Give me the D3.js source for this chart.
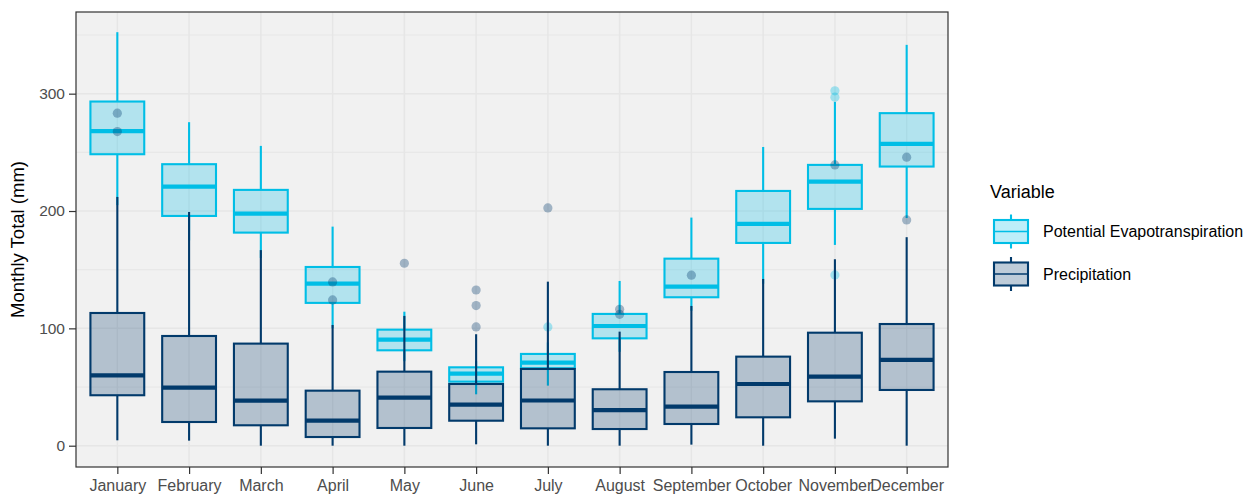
<!DOCTYPE html>
<html>
<head>
<meta charset="utf-8">
<script src="https://cdn.jsdelivr.net/npm/d3@7"></script>
<style>
  html, body { margin: 0; padding: 0; background: #ffffff; }
  svg { display: block; font-family: "Liberation Sans", Arial, sans-serif; }
</style>
</head>
<body>
<svg id="chart" width="1251" height="498"></svg>
<script>
// ---------- data ----------
const months = ["January","February","March","April","May","June","July","August","September","October","November","December"];
const seriesNames = ["Potential Evapotranspiration", "Precipitation"];

// Potential Evapotranspiration box statistics
const petLow  = [205, 175, 160, 100, 72, 43.8, 51.2, 80, 115, 138, 171.1, 194];
const petQ1   = [248.4, 195.8, 181.6, 121.7, 81.3, 54.6, 66, 91.5, 126.5, 172.8, 201.8, 237.9];
const petMed  = [268, 220.8, 197.8, 138.1, 90.4, 61.4, 70.8, 102, 135.6, 189, 225, 257.2];
const petQ3   = [293.3, 239.9, 218, 152.3, 98.9, 66.8, 78.2, 112.3, 159.4, 217.1, 239.3, 283.4];
const petHigh = [352.4, 275.7, 255.5, 186.7, 114.2, 72, 88, 140.4, 194.4, 254.6, 293, 341.6];
const petOutlierMonth = ["July", "November", "November", "November"];
const petOutlierValue = [101.2, 302.4, 297, 145.5];

// Precipitation box statistics
const preLow  = [4.6, 4.3, 0, 0, 0, 1.2, 0, 0, 0.9, 0, 6, 0];
const preQ1   = [43, 20.2, 17.4, 7.4, 15.1, 21.3, 14.8, 14.2, 18.5, 24.2, 37.8, 47.5];
const preMed  = [60, 49.5, 38.4, 21.3, 40.9, 35, 38.5, 30.4, 33.3, 52.6, 58.8, 73.1];
const preQ3   = [113.1, 93.5, 87, 46.9, 63.1, 52.6, 65.4, 48.1, 62.8, 75.9, 96.3, 103.7];
const preHigh = [212, 199.2, 166.7, 102.9, 110.6, 95, 139.8, 97.2, 119.1, 142.1, 158.9, 177.7];
const preOutlierMonth = ["January","January","April","April","May","June","June","June","July","August","August","September","November","December","December"];
const preOutlierValue = [283.4, 267.7, 139.6, 124.2, 155.5, 132.7, 119.4, 101.2, 202.6, 116.3, 112, 145.3, 239.3, 245.9, 192.4];

const yTicks = [0, 100, 200, 300];
const yMinor = [50, 150, 250, 350];

// ---------- layout ----------
const svg = d3.select("#chart");
const panel = { left: 76, right: 948, top: 12, bottom: 467 };
const colors = {
  pet: { stroke: "#00BEE6", fill: "#00BEE6" },
  pre: { stroke: "#023A6B", fill: "#023A6B" }
};

const x = d3.scalePoint().domain(months).range([panel.left, panel.right]).padding(0.576);
const y = d3.scaleLinear().domain([-18.15, 369.6]).range([panel.bottom, panel.top]);
const boxW = x.step() * 0.75;

// panel background
svg.append("rect")
  .attr("x", panel.left).attr("y", panel.top)
  .attr("width", panel.right - panel.left).attr("height", panel.bottom - panel.top)
  .attr("fill", "#F1F1F1");

// grid
const grid = svg.append("g");
grid.selectAll("line.minor").data(yMinor).join("line")
  .attr("x1", panel.left).attr("x2", panel.right)
  .attr("y1", d => y(d)).attr("y2", d => y(d))
  .attr("stroke", "#E8E8E8").attr("stroke-width", 1.2);
grid.selectAll("line.major").data(yTicks).join("line")
  .attr("x1", panel.left).attr("x2", panel.right)
  .attr("y1", d => y(d)).attr("y2", d => y(d))
  .attr("stroke", "#E6E6E6").attr("stroke-width", 1.5);
grid.selectAll("line.vx").data(months).join("line")
  .attr("x1", d => x(d)).attr("x2", d => x(d))
  .attr("y1", panel.top).attr("y2", panel.bottom)
  .attr("stroke", "#E6E6E6").attr("stroke-width", 1.5);

// ---------- boxes ----------
function buildStats(low, q1, med, q3, high) {
  return months.map((m, i) => ({ month: m, low: low[i], q1: q1[i], med: med[i], q3: q3[i], high: high[i] }));
}
const petStats = buildStats(petLow, petQ1, petMed, petQ3, petHigh);
const preStats = buildStats(preLow, preQ1, preMed, preQ3, preHigh);
const petOut = petOutlierMonth.map((m, i) => ({ month: m, value: petOutlierValue[i] }));
const preOut = preOutlierMonth.map((m, i) => ({ month: m, value: preOutlierValue[i] }));

function drawSeries(stats, outliers, col) {
  const g = svg.append("g");
  g.selectAll("circle").data(outliers).join("circle")
    .attr("cx", d => x(d.month)).attr("cy", d => y(d.value)).attr("r", 4.6)
    .attr("fill", col.stroke).attr("fill-opacity", 0.34).attr("stroke", "none");
  const b = g.selectAll("g.box").data(stats).join("g");
  b.append("line")
    .attr("x1", d => x(d.month)).attr("x2", d => x(d.month))
    .attr("y1", d => y(d.q3)).attr("y2", d => y(d.high))
    .attr("stroke", col.stroke).attr("stroke-width", 2.1);
  b.append("line")
    .attr("x1", d => x(d.month)).attr("x2", d => x(d.month))
    .attr("y1", d => y(d.q1)).attr("y2", d => y(d.low))
    .attr("stroke", col.stroke).attr("stroke-width", 2.1);
  b.append("rect")
    .attr("x", d => x(d.month) - boxW / 2).attr("width", boxW)
    .attr("y", d => y(d.q3)).attr("height", d => y(d.q1) - y(d.q3))
    .attr("fill", col.fill).attr("fill-opacity", 0.26)
    .attr("stroke", col.stroke).attr("stroke-width", 2.1);
  b.append("line")
    .attr("x1", d => x(d.month) - boxW / 2).attr("x2", d => x(d.month) + boxW / 2)
    .attr("y1", d => y(d.med)).attr("y2", d => y(d.med))
    .attr("stroke", col.stroke).attr("stroke-width", 4.2);
}
drawSeries(petStats, petOut, colors.pet);
drawSeries(preStats, preOut, colors.pre);

// panel border
svg.append("rect")
  .attr("x", panel.left).attr("y", panel.top)
  .attr("width", panel.right - panel.left).attr("height", panel.bottom - panel.top)
  .attr("fill", "none").attr("stroke", "#333333").attr("stroke-width", 1.2);

// ---------- axes ----------
const yAxis = svg.append("g").attr("transform", `translate(${panel.left},0)`)
  .call(d3.axisLeft(y).tickValues(yTicks).tickSize(7).tickPadding(4));
yAxis.select(".domain").remove();
yAxis.selectAll(".tick line").attr("stroke", "#333333").attr("stroke-width", 1.2);
yAxis.selectAll(".tick text").attr("fill", "#4D4D4D").style("font-size", "15.5px")
  .style("font-family", "'Liberation Sans', Arial, sans-serif");

const xAxis = svg.append("g").attr("transform", `translate(0,${panel.bottom})`)
  .call(d3.axisBottom(x).tickSize(7).tickPadding(6));
xAxis.select(".domain").remove();
xAxis.selectAll(".tick line").attr("stroke", "#333333").attr("stroke-width", 1.2);
xAxis.selectAll(".tick text").attr("fill", "#4D4D4D").style("font-size", "16px")
  .style("font-family", "'Liberation Sans', Arial, sans-serif");

svg.append("text")
  .attr("transform", `translate(24,${(panel.top + panel.bottom) / 2}) rotate(-90)`)
  .attr("text-anchor", "middle")
  .attr("fill", "#000")
  .style("font-size", "18.5px")
  .text("Monthly Total (mm)");

// ---------- legend ----------
const legend = svg.append("g");
legend.append("text").attr("x", 990).attr("y", 198)
  .attr("fill", "#000").style("font-size", "18px").text("Variable");
const legendCols = [colors.pet, colors.pre];
const keyTop = [220, 262.5];
seriesNames.forEach((name, i) => {
  const col = legendCols[i];
  const k = legend.append("g");
  const kx = 994, kw = 34, ky = keyTop[i], kh = 23;
  k.append("line").attr("x1", kx + kw / 2).attr("x2", kx + kw / 2)
    .attr("y1", ky - 5.5).attr("y2", ky + kh + 5.5)
    .attr("stroke", col.stroke).attr("stroke-width", 2.1);
  k.append("rect").attr("x", kx).attr("y", ky).attr("width", kw).attr("height", kh)
    .attr("fill", "#ffffff").attr("stroke", "none");
  k.append("rect").attr("x", kx).attr("y", ky).attr("width", kw).attr("height", kh)
    .attr("fill", col.fill).attr("fill-opacity", 0.26)
    .attr("stroke", col.stroke).attr("stroke-width", 2.1);
  k.append("line").attr("x1", kx).attr("x2", kx + kw)
    .attr("y1", ky + kh / 2).attr("y2", ky + kh / 2)
    .attr("stroke", col.stroke).attr("stroke-width", 1.6);
  k.append("text").attr("x", 1043).attr("y", ky + kh / 2).attr("dy", "0.35em")
    .attr("fill", "#000").style("font-size", "16px").text(name);
});
</script>
</body>
</html>
